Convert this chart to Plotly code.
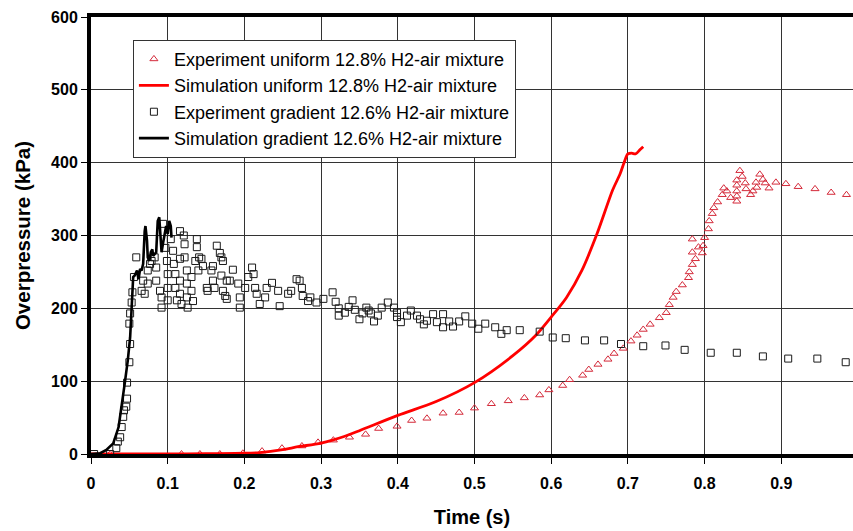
import plotly.graph_objects as go

# Simulation, uniform 12.8% H2-air mixture (time s, overpressure kPa)
sim_uni_t = [0.0, 0.05, 0.10, 0.15, 0.20, 0.22, 0.25, 0.27, 0.30, 0.33, 0.35, 0.40,
             0.45, 0.50, 0.55, 0.58, 0.60, 0.62, 0.64, 0.66, 0.68, 0.69, 0.695,
             0.700, 0.705, 0.710, 0.716, 0.720]
sim_uni_p = [0, 0, 0, 0.5, 1, 2, 6, 10, 15, 24, 32, 53,
             72, 98, 135, 163, 188, 215, 252, 303, 362, 385, 400,
             412, 413, 412, 418, 422]

# Experiment, uniform 12.8% H2-air mixture
exp_uni_t = [0.025, 0.118, 0.142, 0.168, 0.198, 0.223, 0.249, 0.275, 0.296, 0.316,
             0.337, 0.358, 0.375, 0.399, 0.418, 0.438, 0.459, 0.480, 0.500, 0.522,
             0.544, 0.565, 0.585, 0.597, 0.615, 0.624, 0.641, 0.649, 0.661, 0.674,
             0.682, 0.694, 0.704, 0.712, 0.720, 0.729, 0.741, 0.750, 0.754, 0.759,
             0.763, 0.771, 0.779, 0.780, 0.784, 0.788, 0.784, 0.792, 0.784, 0.797,
             0.798, 0.800, 0.805, 0.806, 0.810, 0.812, 0.817, 0.823, 0.825, 0.829,
             0.834, 0.842, 0.842, 0.842, 0.842, 0.842, 0.846, 0.849, 0.853, 0.854,
             0.860, 0.863, 0.868, 0.867, 0.872, 0.876, 0.879, 0.884, 0.893, 0.906,
             0.922, 0.944, 0.965, 0.985]
exp_uni_p = [0, 0, 0, 0, 1, 4, 8, 11, 16, 19,
             23, 27, 35, 38, 46, 49, 56, 57, 63, 69,
             73, 77, 81, 88, 94, 102, 108, 116, 123, 130,
             138, 145, 155, 163, 171, 178, 187, 194, 205, 215,
             223, 232, 242, 250, 260, 268, 277, 284, 295, 276,
             286, 297, 309, 320, 330, 338, 346, 356, 365, 361,
             352, 347, 354, 361, 369, 376, 389, 381, 372, 364,
             356, 361, 366, 373, 384, 377, 372, 365, 373, 371,
             367, 364, 359, 356]

# Simulation, gradient 12.6% H2-air mixture
sim_grad_t = [0.0, 0.012, 0.020, 0.029, 0.036, 0.040, 0.044, 0.048, 0.051, 0.053,
              0.054, 0.055, 0.057, 0.060, 0.062, 0.064, 0.066, 0.068, 0.070, 0.071,
              0.073, 0.074, 0.076, 0.078, 0.080, 0.081, 0.085, 0.087, 0.089, 0.090,
              0.092, 0.094, 0.096, 0.098, 0.100, 0.102, 0.104, 0.105]
sim_grad_p = [0, 1, 5.5, 14.6, 37, 65, 97, 129, 160, 201,
              238, 243, 245, 252, 240, 254, 252, 261, 306, 313,
              293, 270, 265, 277, 281, 272, 277, 320, 325, 302,
              277, 290, 304, 313, 302, 320, 313, 297]

# Experiment, gradient 12.6% H2-air mixture
exp_grad_t = [0.004, 0.025, 0.033, 0.035, 0.038, 0.040, 0.042, 0.043, 0.046, 0.047,
              0.047, 0.050, 0.051, 0.050, 0.051, 0.053, 0.054, 0.056, 0.059,
              0.066, 0.070, 0.068, 0.074, 0.074, 0.077, 0.079, 0.083, 0.085, 0.085,
              0.090, 0.092, 0.092, 0.094, 0.097, 0.099, 0.100, 0.100, 0.100,
              0.104, 0.107, 0.108, 0.110, 0.110, 0.112, 0.116, 0.116, 0.116, 0.116,
              0.118, 0.121, 0.122, 0.122, 0.125, 0.125, 0.125, 0.126, 0.131, 0.131,
              0.133, 0.136, 0.138, 0.138, 0.140, 0.141, 0.144, 0.146, 0.151, 0.152,
              0.157, 0.159, 0.159, 0.161, 0.164, 0.168, 0.170, 0.172, 0.170, 0.172,
              0.175, 0.177, 0.177, 0.181, 0.185, 0.192, 0.194, 0.194, 0.201, 0.205,
              0.210, 0.212, 0.214, 0.216, 0.220, 0.227, 0.229, 0.236, 0.244, 0.246,
              0.257, 0.261, 0.268, 0.272, 0.275, 0.276, 0.283, 0.286, 0.294, 0.303,
              0.315, 0.319, 0.323, 0.323, 0.331, 0.336, 0.341, 0.344, 0.350, 0.354,
              0.359, 0.362, 0.365, 0.369, 0.374, 0.379, 0.387, 0.395, 0.399, 0.399,
              0.404, 0.412, 0.417, 0.425, 0.429, 0.434, 0.438, 0.446, 0.451, 0.459,
              0.459, 0.467, 0.472, 0.480, 0.488, 0.497, 0.505, 0.514, 0.527, 0.535,
              0.542, 0.559, 0.585, 0.602, 0.619, 0.644, 0.669, 0.691, 0.720, 0.749,
              0.774, 0.808, 0.842, 0.876, 0.909, 0.947, 0.984]
exp_grad_p = [0, 0, 8, 17, 23, 37, 51, 60, 65, 76,
              98, 126, 151, 179, 193, 208, 222, 243, 270,
              224, 220, 238, 234, 252, 261, 265, 270, 256, 238,
              224, 201, 215, 316, 283, 265, 247, 228, 211,
              295, 279, 261, 247, 228, 211, 306, 268, 238, 220,
              206, 300, 288, 270, 252, 234, 215, 201, 243, 224,
              210, 265, 295, 284, 252, 270, 268, 258, 228, 224,
              252, 258, 238, 228, 286, 276, 270, 265, 245, 224,
              217, 213, 238, 238, 253, 234, 201, 215, 228, 243,
              256, 247, 228, 220, 206, 215, 228, 235, 224, 203,
              220, 224, 240, 238, 228, 217, 210, 215, 208, 213,
              222, 209, 200, 190, 194, 202, 211, 198, 185, 193,
              201, 197, 193, 182, 190, 201, 208, 201, 194, 188,
              181, 190, 197, 190, 185, 178, 183, 192, 181, 174,
              192, 182, 175, 182, 189, 179, 172, 179, 174, 165,
              170, 170, 168, 160, 159, 156, 156, 151, 148, 149,
              143, 139, 139, 134, 131, 131, 126]

x_ticks = [0, 0.1, 0.2, 0.3, 0.4, 0.5, 0.6, 0.7, 0.8, 0.9, 1.0]
y_ticks = [0, 100, 200, 300, 400, 500, 600]

FONT = "Liberation Sans, Arial, sans-serif"

fig = go.Figure()

fig.add_trace(go.Scatter(
    x=exp_uni_t, y=exp_uni_p, mode="markers",
    name="Experiment uniform 12.8% H2-air mixture",
    marker=dict(symbol="triangle-up-open", size=7, color="#d42a3a",
                line=dict(width=1, color="#d42a3a")),
))
fig.add_trace(go.Scatter(
    x=sim_uni_t, y=sim_uni_p, mode="lines",
    name="Simulation uniform 12.8% H2-air mixture",
    line=dict(color="#ff0000", width=2.8, shape="spline", smoothing=0.8),
))
fig.add_trace(go.Scatter(
    x=exp_grad_t, y=exp_grad_p, mode="markers",
    name="Experiment gradient 12.6% H2-air mixture",
    marker=dict(symbol="square-open", size=7, color="#1a1a1a",
                line=dict(width=1, color="#1a1a1a")),
))
fig.add_trace(go.Scatter(
    x=sim_grad_t, y=sim_grad_p, mode="lines",
    name="Simulation gradient 12.6% H2-air mixture",
    line=dict(color="#000000", width=2.6),
))

fig.update_layout(
    width=853, height=531, autosize=False,
    margin=dict(l=91, r=0, t=17, b=77, pad=0),
    paper_bgcolor="white", plot_bgcolor="white",
    font=dict(family=FONT, color="black"),
    showlegend=True,
    legend=dict(
        x=0.055, y=0.948, xanchor="left", yanchor="top",
        bgcolor="white", bordercolor="#333333", borderwidth=1,
        font=dict(family=FONT, size=18, color="black"),
        itemwidth=30, tracegroupgap=0,
    ),
)

fig.update_xaxes(
    range=[0, 0.9935], tickvals=x_ticks, ticktext=[f"{v:g}" for v in x_ticks],
    showgrid=True, gridcolor="#333333", gridwidth=1.4,
    showline=True, linecolor="black", linewidth=4, mirror=True,
    ticks="outside", ticklen=6, tickcolor="black", tickwidth=1.3,
    tickfont=dict(family=FONT, size=16, weight="bold"),
    ticklabelstandoff=6,
    zeroline=False,
    title=dict(text="Time (s)", font=dict(family=FONT, size=20, weight="bold"),
               standoff=20),
)
fig.update_yaxes(
    range=[0, 600], tickvals=y_ticks,
    showgrid=True, gridcolor="#333333", gridwidth=1.4,
    showline=True, linecolor="black", linewidth=4,
    ticks="outside", ticklen=6, tickcolor="black", tickwidth=1.3,
    tickfont=dict(family=FONT, size=16, weight="bold"),
    zeroline=False,
    title=dict(text="Overpressure (kPa)",
               font=dict(family=FONT, size=20.5, weight="bold"), standoff=16),
)

fig.write_html("out.html")
